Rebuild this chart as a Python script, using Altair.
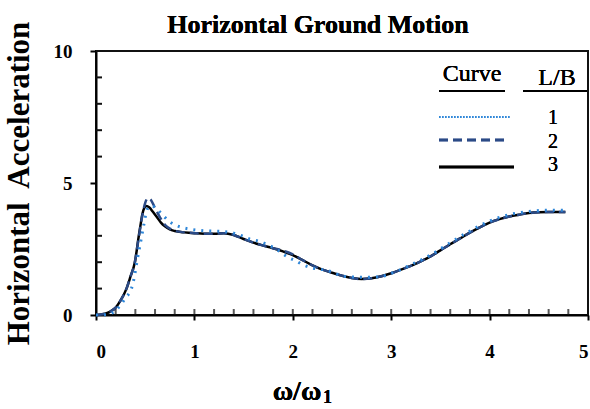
import altair as alt
import pandas as pd

# Curve 1 (L/B = 1), dotted
x1 = [0, 0.1, 0.15, 0.2, 0.25, 0.3, 0.36, 0.39, 0.415, 0.44, 0.465, 0.49, 0.515, 0.54, 0.57, 0.6,
      0.65, 0.7, 0.75, 0.8, 0.87, 0.96, 1.1, 1.3, 1.4, 1.46, 1.56, 1.65, 1.73, 1.8, 1.87, 1.95,
      2.04, 2.11, 2.21, 2.36, 2.45, 2.55, 2.72, 2.89, 3.0, 3.06, 3.2, 3.4, 3.6, 3.8, 4.0, 4.2,
      4.4, 4.6, 4.77]
y1 = [0, 0.01, 0.05, 0.17, 0.38, 0.65, 1.0, 1.45, 2.0, 2.5, 3.0, 3.5, 3.95, 4.1, 4.13, 4.07,
      3.9, 3.7, 3.53, 3.42, 3.32, 3.25, 3.19, 3.16, 3.1, 3.03, 2.88, 2.8, 2.69, 2.56, 2.4, 2.19,
      2.03, 1.89, 1.77, 1.68, 1.55, 1.45, 1.43, 1.45, 1.58, 1.66, 1.9, 2.27, 2.74, 3.18, 3.56, 3.8,
      3.92, 3.97, 3.97]

# Curve 2 (L/B = 2), dashed
x2 = [0, 0.05, 0.1, 0.15, 0.2, 0.25, 0.31, 0.35, 0.395, 0.435, 0.47, 0.5, 0.53, 0.56, 0.6, 0.65,
      0.7, 0.75, 0.8, 0.9, 1.0, 1.1, 1.2, 1.3, 1.4, 1.5, 1.6, 1.7, 1.8, 1.9, 2.0, 2.1, 2.2, 2.3,
      2.4, 2.5, 2.6, 2.7, 2.8, 2.9, 3.0, 3.1, 3.2, 3.3, 3.4, 3.5, 3.6, 3.7, 3.8, 3.9, 4.0, 4.1,
      4.2, 4.3, 4.4, 4.5, 4.6, 4.7, 4.77]
y2 = [0, 0.02, 0.06, 0.14, 0.28, 0.55, 1.0, 1.45, 2.0, 2.95, 3.75, 4.25, 4.43, 4.35, 4.05, 3.7,
      3.42, 3.27, 3.19, 3.13, 3.1, 3.08, 3.08, 3.1, 3.03, 2.88, 2.74, 2.63, 2.53, 2.44, 2.3, 2.08,
      1.88, 1.72, 1.6, 1.49, 1.4, 1.36, 1.39, 1.47, 1.58, 1.72, 1.86, 2.03, 2.22, 2.45, 2.68, 2.9,
      3.12, 3.32, 3.5, 3.63, 3.73, 3.8, 3.86, 3.89, 3.9, 3.9, 3.9]

# Curve 3 (L/B = 3), solid
x3 = [0, 0.05, 0.1, 0.15, 0.2, 0.25, 0.31, 0.35, 0.395, 0.435, 0.45, 0.47, 0.49, 0.515, 0.54,
      0.58, 0.62, 0.66, 0.7, 0.75, 0.8, 0.9, 1.0, 1.1, 1.2, 1.3, 1.4, 1.5, 1.6, 1.7, 1.8, 1.9,
      2.0, 2.1, 2.2, 2.3, 2.4, 2.5, 2.6, 2.7, 2.8, 2.9, 3.0, 3.1, 3.2, 3.3, 3.4, 3.5, 3.6, 3.7,
      3.8, 3.9, 4.0, 4.1, 4.2, 4.3, 4.4, 4.5, 4.6, 4.7, 4.77]
y3 = [0, 0.02, 0.06, 0.14, 0.28, 0.55, 1.0, 1.45, 2.0, 3.0, 3.35, 3.8, 4.05, 4.13, 4.08,
      3.9, 3.7, 3.5, 3.36, 3.24, 3.18, 3.13, 3.1, 3.08, 3.08, 3.1, 3.03, 2.88, 2.74, 2.63, 2.53,
      2.41, 2.27, 2.08, 1.88, 1.72, 1.6, 1.49, 1.4, 1.36, 1.39, 1.47, 1.58, 1.72, 1.86, 2.03,
      2.22, 2.45, 2.68, 2.9, 3.12, 3.32, 3.5, 3.63, 3.73, 3.8, 3.86, 3.89, 3.9, 3.9, 3.9]

x_major = [0, 1, 2, 3, 4, 5]
x_minor = [0.2, 0.4, 0.6, 0.8, 1, 1.2, 1.4, 1.6, 1.8, 2, 2.2, 2.4, 2.6, 2.8, 3, 3.2, 3.4,
           3.6, 3.8, 4, 4.2, 4.4, 4.6, 4.8]
y_major = [0, 5, 10]
y_minor = [1, 2, 3, 4, 6, 7, 8, 9]
lb_labels = ["1", "2", "3"]

title = "Horizontal Ground Motion"
y_title = "Horizontal\u00a0 Acceleration"

SERIF = "Liberation Serif"
INK = "#111111"
W, H = 492, 264

d1 = pd.DataFrame({"x": x1, "y": y1})
d2 = pd.DataFrame({"x": x2, "y": y2})
d3 = pd.DataFrame({"x": x3, "y": y3})

xs = alt.Scale(domain=[0, 5], nice=False, zero=False)
ys = alt.Scale(domain=[0, 10], nice=False, zero=False)

x_axis = alt.Axis(values=x_major, format="d", title=None, tickSize=5, tickWidth=2,
                  labelFont=SERIF, labelFontSize=19, labelFontWeight="bold",
                  labelColor="black", labelPadding=22, domainWidth=2, domainColor="black",
                  tickColor="black", grid=False)
y_axis = alt.Axis(values=y_major, format="d", title=y_title, tickSize=6, tickWidth=2,
                  labelFont=SERIF, labelFontSize=19, labelFontWeight="bold",
                  labelColor="black", labelPadding=18, domainWidth=2, domainColor="black",
                  tickColor="black", grid=False,
                  titleFont=SERIF, titleFontSize=31, titleFontWeight="bold", titleColor="black",
                  titleX=-77, titleY=132, titleAngle=270, titleAlign="center",
                  titleBaseline="middle")

enc_x = alt.X("x:Q", scale=xs, axis=x_axis)
enc_y = alt.Y("y:Q", scale=ys, axis=y_axis)

# minor (inward) ticks, placed through the shared scales
mx = alt.Chart(pd.DataFrame({"x": x_minor})).mark_tick(
    color=INK, thickness=2, size=6).encode(x=enc_x, y=alt.value(H - 3))
my = alt.Chart(pd.DataFrame({"y": y_minor})).mark_rule(color=INK, strokeWidth=2).encode(
    y=enc_y, x=alt.value(0), x2=alt.value(6))

solid = alt.Chart(d3).mark_line(color="black", strokeWidth=2.5, interpolate="monotone").encode(
    x=enc_x, y=enc_y)
dashed = alt.Chart(d2).mark_line(color="#2b4a86", strokeWidth=2.5, strokeDash=[9, 5],
                                  interpolate="monotone").encode(x=enc_x, y=enc_y)
dotted = alt.Chart(d1).mark_line(color="#2e86d8", strokeWidth=3, strokeDash=[2, 6],
                                  interpolate="monotone").encode(x=enc_x, y=enc_y)

leg_df = pd.DataFrame({"lab": lb_labels})

def rule(x1p, x2p, yp, **kw):
    return alt.Chart(leg_df).mark_rule(**kw).encode(
        x=alt.value(x1p), x2=alt.value(x2p), y=alt.value(yp))

def vrule(xp, y1p, y2p, **kw):
    return alt.Chart(leg_df).mark_rule(**kw).encode(
        x=alt.value(xp), y=alt.value(y1p), y2=alt.value(y2p))

def text(t, xp, yp, size, weight="normal", align="center", baseline="alphabetic"):
    return alt.Chart(leg_df).mark_text(text=t, font=SERIF, fontSize=size, fontWeight=weight,
                                       color="black", align=align, baseline=baseline).encode(
        x=alt.value(xp), y=alt.value(yp))

layers = [
    mx, my,
    rule(0, W + 1, 0, color=INK, strokeWidth=2),
    vrule(W, 0, H, color=INK, strokeWidth=2),
    solid, dashed, dotted,
    text(title, 222, -18, 26, weight="bold"),
    text("Curve", 376, 30, 24),
    text("L/B", 461, 34, 24),
    rule(343, 409, 40, color="black", strokeWidth=2),
    rule(427, 491, 40, color="black", strokeWidth=2),
    rule(343, 415, 66, color="#2e86d8", strokeWidth=1.6, strokeDash=[1.5, 1.5]),
    rule(343, 412, 89, color="#2b4a86", strokeWidth=2.5, strokeDash=[9, 5]),
    rule(343, 418, 116, color="black", strokeWidth=2.5),
    text("1", 457, 67, 20, baseline="middle"),
    text("2", 457, 91, 20, baseline="middle"),
    text("3", 457, 114, 20, baseline="middle"),
    text("\u03c9/\u03c9", 201, 349, 28, weight="bold"),
    text("1", 227, 352, 18, weight="bold", align="left"),
]

chart = alt.layer(*layers).properties(
    width=W, height=H,
    padding={"left": 96, "top": 51, "right": 2, "bottom": 94},
    autosize=alt.AutoSizeParams(type="none"),
    background="white",
).configure_view(stroke=INK, strokeWidth=2)

chart.save("out.html", embed_options={"renderer": "svg", "actions": False})
